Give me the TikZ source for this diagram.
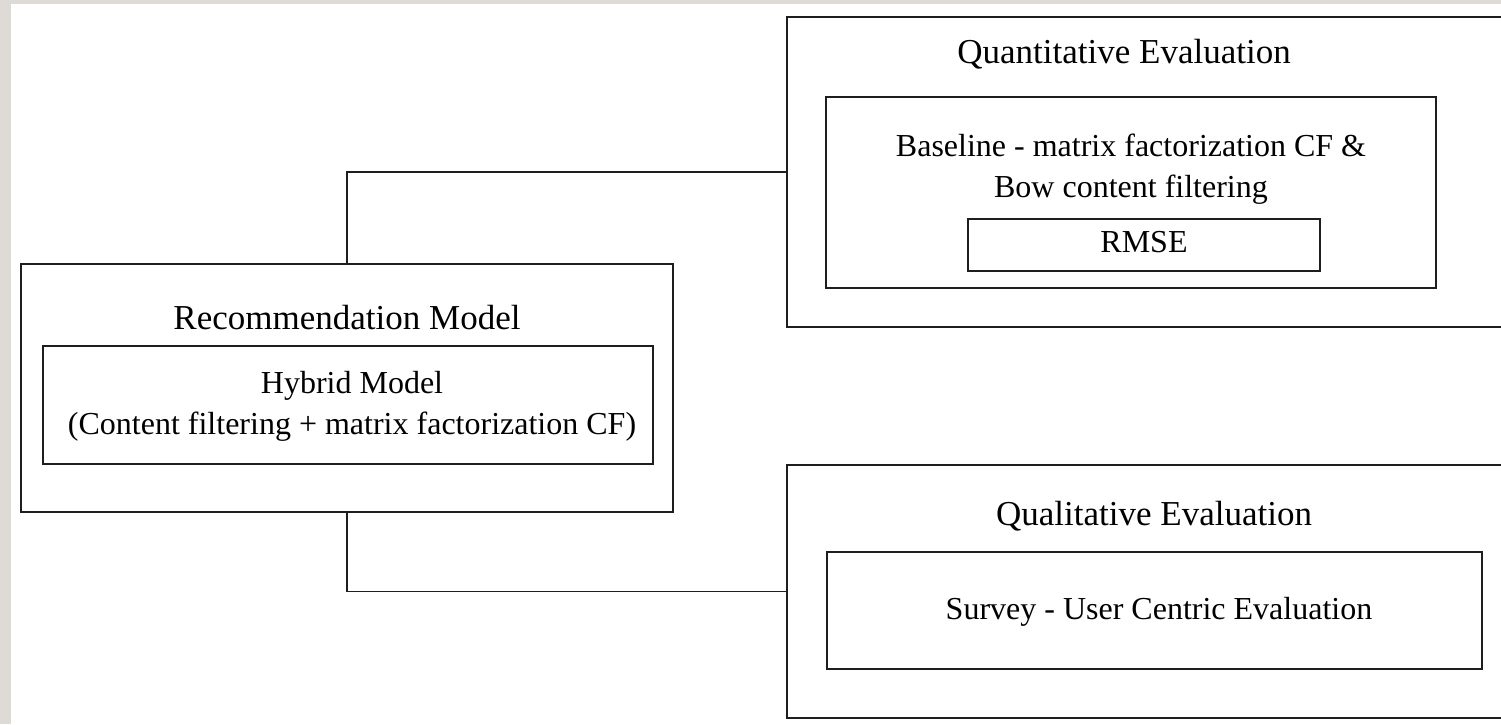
\documentclass[tikz,border=0pt]{standalone}
\usepackage{fontspec}
\setmainfont{Liberation Serif}
\definecolor{edge}{HTML}{1E1E1E}
\definecolor{frame}{HTML}{DEDBD6}
\begin{document}
\begin{tikzpicture}[x=1pt,y=-1pt,
  box/.style={draw=edge, line width=1.9pt, inner sep=0pt, outer sep=0pt, rectangle},
  link/.style={draw=edge, line width=1.9pt},
  titletext/.style={anchor=base, inner sep=0pt, font=\fontsize{35}{40}\selectfont},
  bodytext/.style={anchor=base, inner sep=0pt, align=center, font=\fontsize{32}{41}\selectfont}]
\useasboundingbox (0,0) rectangle (1501,724);
\clip (0,0) rectangle (1501,724);
\fill[white] (0,0) rectangle (1501,724);
\fill[frame] (0,0) rectangle (11,724);
\fill[frame] (0,0) rectangle (1501,4);
% boxes
\node[box, minimum width=652pt, minimum height=248pt] (rec) at (347,388) {};
\node[box, minimum width=610pt, minimum height=118pt] (hyb) at (348,405) {};
\node[box, minimum width=743pt, minimum height=310pt] (quant) at (1158.5,172) {};
\node[box, minimum width=610pt, minimum height=191pt] (base) at (1131,192.5) {};
\node[box, minimum width=352pt, minimum height=52pt] (rmse) at (1144,245) {};
\node[box, minimum width=743pt, minimum height=253pt] (qual) at (1158.5,591.5) {};
\node[box, minimum width=655pt, minimum height=117pt] (survey) at (1154.5,610.5) {};
% connectors
\draw[link] (rec.north) |- (quant.west);
\draw[link] (rec.south) |- (qual.west);
% texts
\node[titletext] (tquant) at (1124,63) {Quantitative Evaluation};
\node[bodytext] (tbase) at (1131,197) {Baseline - matrix factorization CF \&\\Bow content filtering};
\node[bodytext] (trmse) at (1144,252) {RMSE};
\node[titletext] (trec) at (347,329) {Recommendation Model};
\node[bodytext] (thyb) at (352,434) {Hybrid Model\\(Content filtering + matrix factorization CF)};
\node[titletext] (tqual) at (1154,525) {Qualitative Evaluation};
\node[bodytext] (tsurvey) at (1159,619) {Survey - User Centric Evaluation};
\end{tikzpicture}
\end{document}
